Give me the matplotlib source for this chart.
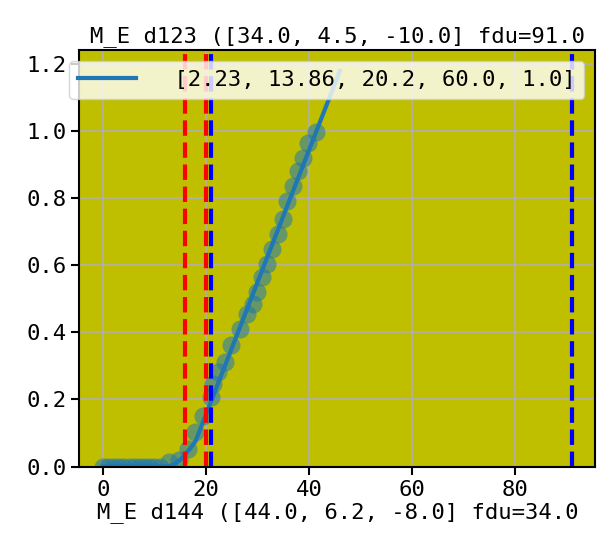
import matplotlib
matplotlib.use("Agg")
import matplotlib.pyplot as plt

plt.rcParams['font.family'] = ['DejaVu Sans Mono']
plt.rcParams['font.size'] = 16

obs_x = [0, 1, 2, 3, 4, 5, 6, 7, 8, 9, 10, 11, 12.8, 14.7, 16.6, 17.9, 19.5,
         20.9, 21.4, 22.4, 23.8, 24.9, 26.7, 28.0, 29.1, 29.9, 30.9, 31.9, 32.8,
         33.9, 34.9, 35.8, 36.9, 37.9, 38.8, 39.9, 41.3]
obs_y = [0, 0, 0, 0, 0, 0, 0, 0, 0, 0, 0, 0, 0.013, 0.018, 0.053, 0.102, 0.152,
         0.207, 0.247, 0.281, 0.311, 0.361, 0.411, 0.456, 0.486, 0.52, 0.565,
         0.605, 0.65, 0.695, 0.739, 0.792, 0.836, 0.881, 0.921, 0.965, 0.998]

# fitted curve
fit_x = [0, 12, 13, 14, 15, 16, 17, 18, 46]
fit_y = [0, 0, 0.002, 0.008, 0.02, 0.036, 0.055, 0.076, 1.18]
fit_label = " [2.23, 13.86, 20.2, 60.0, 1.0]"

red_lines = [16, 20]
blue_lines = [21, 91]

title = "M_E d123 ([34.0, 4.5, -10.0] fdu=91.0"
xlabel = "M_E d144 ([44.0, 6.2, -8.0] fdu=34.0"

fig = plt.figure(figsize=(5.97, 5.45), dpi=100)
ax = fig.add_axes([0.133, 0.144, 0.864, 0.764])
ax.set_facecolor('y')

ax.plot(obs_x, obs_y, 'o', color='C0', alpha=0.55, ms=13, mec='none')
ax.plot(fit_x, fit_y, color='C0', lw=3, label=fit_label)
for v in red_lines:
    ax.axvline(v, color='red', ls='--', lw=3)
for v in blue_lines:
    ax.axvline(v, color='blue', ls='--', lw=3)

ax.set_xlim(-4.55, 95.55)
ax.set_ylim(0, 1.242)
ax.grid(True, color='#b0b0b0', lw=1.2)
for s in ax.spines.values():
    s.set_linewidth(1.5)
ax.tick_params(length=6, width=1.5)

ax.set_title(title, fontsize=16)
ax.set_xlabel(xlabel, fontsize=16, labelpad=2)
ax.legend(loc='upper right', handlelength=2.6, handletextpad=1.1, fontsize=16)

fig.savefig("out.png", dpi=100)
